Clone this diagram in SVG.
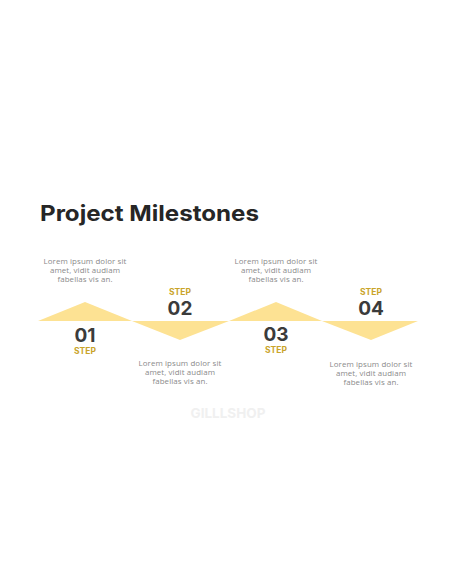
<svg xmlns="http://www.w3.org/2000/svg" width="456" height="586" viewBox="0 0 456 586">
<style>
.tri{fill:#fde293;}
.num{font-family:Inter,"Liberation Sans",sans-serif;font-weight:700;font-size:19px;fill:#3b3b3b;text-anchor:middle;}
.step{font-family:Inter,"Liberation Sans",sans-serif;font-weight:700;font-size:8.5px;fill:#c9a42a;text-anchor:middle;}
.desc{font-family:"Open Sans","Liberation Sans",sans-serif;font-size:7.9px;letter-spacing:0.1px;fill:#8a8a8a;text-anchor:middle;}
</style>
<rect width="456" height="586" fill="#ffffff"/>
<text x="40" y="221" font-family="Inter,'Liberation Sans',sans-serif" font-weight="700" font-size="21.5" fill="#262626" textLength="219" lengthAdjust="spacingAndGlyphs">Project Milestones</text>
<text x="228" y="418" font-family="Inter,'Liberation Sans',sans-serif" font-weight="700" font-size="13.5" fill="#f0f0f0" text-anchor="middle">GILLLSHOP</text>
<g id="connectors"></g>
<g id="step1">
<polygon class="tri" points="38,321 85,302 132,321"/>
<text class="num" x="85" y="342">01</text>
<text class="step" x="85" y="353.5">STEP</text>
<text class="desc" x="85" y="263.5">Lorem ipsum dolor sit</text>
<text class="desc" x="85" y="272.5">amet, vidit audiam</text>
<text class="desc" x="85" y="281.5">fabellas vis an.</text>
</g>
<g id="step2">
<polygon class="tri" points="132,321 229,321 180,340"/>
<text class="step" x="180" y="295">STEP</text>
<text class="num" x="180" y="315">02</text>
<text class="desc" x="180" y="366">Lorem ipsum dolor sit</text>
<text class="desc" x="180" y="375">amet, vidit audiam</text>
<text class="desc" x="180" y="384">fabellas vis an.</text>
</g>
<g id="step3">
<polygon class="tri" points="229,321 276,302 322,321"/>
<text class="num" x="276" y="341">03</text>
<text class="step" x="276" y="353">STEP</text>
<text class="desc" x="276" y="263.5">Lorem ipsum dolor sit</text>
<text class="desc" x="276" y="272.5">amet, vidit audiam</text>
<text class="desc" x="276" y="281.5">fabellas vis an.</text>
</g>
<g id="step4">
<polygon class="tri" points="322,321 418,321 371,340"/>
<text class="step" x="371" y="295">STEP</text>
<text class="num" x="371" y="315">04</text>
<text class="desc" x="371" y="366.5">Lorem ipsum dolor sit</text>
<text class="desc" x="371" y="375.5">amet, vidit audiam</text>
<text class="desc" x="371" y="384.5">fabellas vis an.</text>
</g>
</svg>
